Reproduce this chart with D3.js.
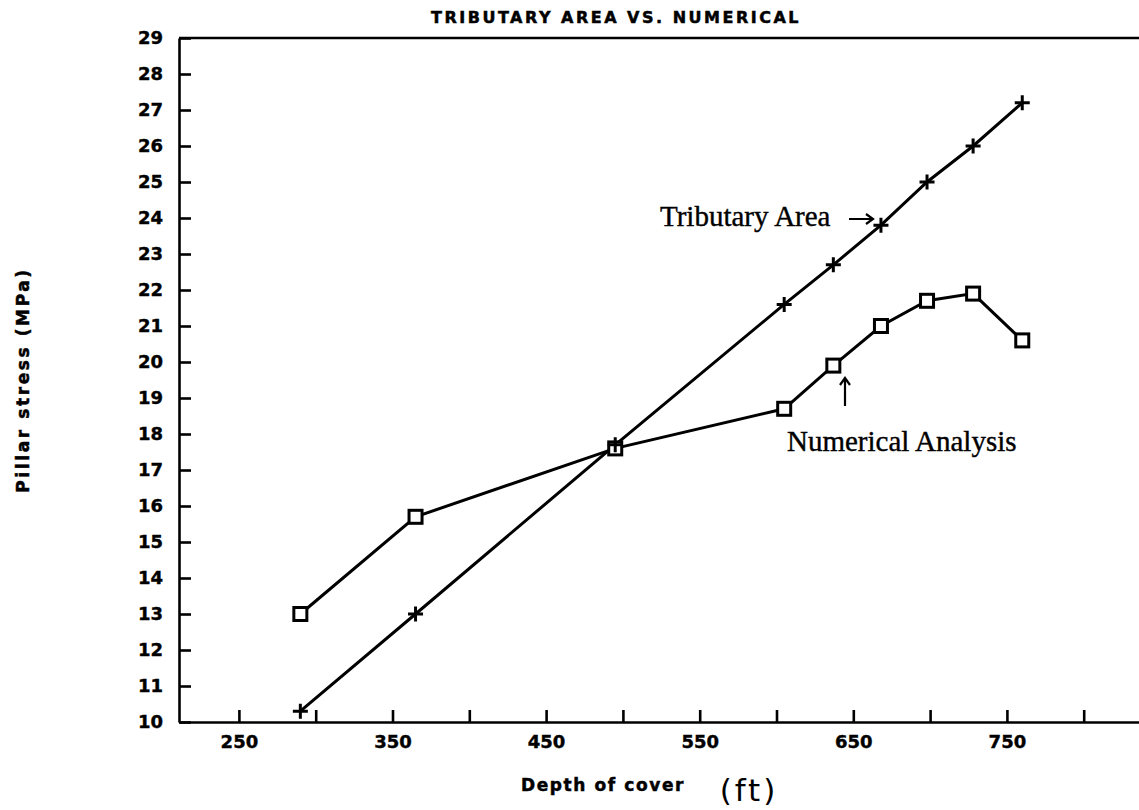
<!DOCTYPE html>
<html>
<head>
<meta charset="utf-8">
<script src="https://cdn.jsdelivr.net/npm/d3@7"></script>
<style>
  html, body { margin: 0; padding: 0; background: #fff; }
  svg { display: block; }
  .plotter { font-family: "DejaVu Sans", sans-serif; font-weight: bold; fill: #000; stroke: #000; stroke-width: 0.5px; }
  .axis path, .axis line { stroke: #000; stroke-width: 2.6; }
  .axis text { font-family: "DejaVu Sans", sans-serif; font-weight: bold; font-size: 18px; fill: #000; stroke: #000; stroke-width: 0.4px; }
  .note { font-family: "Liberation Serif", "Times New Roman", serif; font-size: 29px; fill: #000; stroke: #000; stroke-width: 0.4px; }
</style>
</head>
<body>
<svg id="chart"></svg>
<script>
const depth = [290, 365, 495, 605, 637, 668, 698, 728, 760];
const tributary = [10.3, 13.0, 17.7, 21.6, 22.7, 23.8, 25.0, 26.0, 27.2];
const numerical = [13.0, 15.7, 17.6, 18.7, 19.9, 21.0, 21.7, 21.9, 20.6];
const xTicks = [250, 300, 350, 400, 450, 500, 550, 600, 650, 700, 750, 800];
const xTickLabels = [250, 350, 450, 550, 650, 750];
const yTicks = [10, 11, 12, 13, 14, 15, 16, 17, 18, 19, 20, 21, 22, 23, 24, 25, 26, 27, 28, 29];

const width = 1139;
const height = 810;

const svg = d3.select("#chart").attr("width", width).attr("height", height);

const x = d3.scaleLinear().domain([211, 836]).range([179, 1139]);
const y = d3.scaleLinear().domain([10, 29]).range([722, 38]);

// title
svg.append("text")
  .attr("class", "plotter")
  .attr("x", 616)
  .attr("y", 23)
  .attr("text-anchor", "middle")
  .attr("font-size", "16px")
  .attr("letter-spacing", "2.5px")
  .text("TRIBUTARY AREA VS. NUMERICAL");

// frame top
svg.append("line")
  .attr("x1", x.range()[0]).attr("x2", x.range()[1])
  .attr("y1", y(29)).attr("y2", y(29))
  .attr("stroke", "#000").attr("stroke-width", 2.6);

svg.append("g")
  .attr("class", "axis")
  .attr("transform", `translate(${x.range()[0]},0)`)
  .call(d3.axisLeft(y).tickValues(yTicks).tickSize(-12).tickSizeOuter(0).tickPadding(16));

svg.append("g")
  .attr("class", "axis")
  .attr("transform", `translate(0,${y.range()[0]})`)
  .call(d3.axisBottom(x).tickValues(xTicks).tickSize(-12).tickSizeOuter(0).tickPadding(13)
    .tickFormat((d) => (xTickLabels.includes(d) ? d : "")));

// axis titles
svg.append("text")
  .attr("class", "plotter")
  .attr("transform", `translate(29,${(y.range()[0] + y.range()[1]) / 2}) rotate(-90)`)
  .attr("text-anchor", "middle")
  .attr("font-size", "17px")
  .attr("letter-spacing", "2.6px")
  .text("Pillar stress (MPa)");

svg.append("text")
  .attr("class", "plotter")
  .attr("x", 521)
  .attr("y", 791)
  .attr("font-size", "17px")
  .attr("letter-spacing", "1.6px")
  .text("Depth of cover");

svg.append("text")
  .attr("x", 749)
  .attr("y", 801)
  .attr("text-anchor", "middle")
  .attr("font-family", "DejaVu Sans, sans-serif")
  .attr("font-size", "31px")
  .attr("letter-spacing", "3px")
  .attr("fill", "#000")
  .text("(ft)");

const line = d3.line().x((d) => x(d[0])).y((d) => y(d[1]));
const tribPts = depth.map((d, i) => [d, tributary[i]]);
const numPts = depth.map((d, i) => [d, numerical[i]]);

svg.append("path").datum(numPts)
  .attr("d", line).attr("fill", "none").attr("stroke", "#000").attr("stroke-width", 3);
svg.append("path").datum(tribPts)
  .attr("d", line).attr("fill", "none").attr("stroke", "#000").attr("stroke-width", 3);

svg.append("g").selectAll("rect")
  .data(numPts)
  .join("rect")
  .attr("x", (d) => x(d[0]) - 6.5)
  .attr("y", (d) => y(d[1]) - 6.5)
  .attr("width", 13)
  .attr("height", 13)
  .attr("fill", "#fff")
  .attr("stroke", "#000")
  .attr("stroke-width", 3);

svg.append("g").selectAll("path")
  .data(tribPts)
  .join("path")
  .attr("transform", (d) => `translate(${x(d[0])},${y(d[1])})`)
  .attr("d", "M-7.5,0H7.5M0,-7.5V7.5")
  .attr("stroke", "#000")
  .attr("stroke-width", 3);

// annotations
svg.append("text")
  .attr("class", "note")
  .attr("x", 660)
  .attr("y", 226)
  .text("Tributary Area");

svg.append("path")
  .attr("d", "M849,219H873M866,214L873,219L866,224")
  .attr("fill", "none")
  .attr("stroke", "#000")
  .attr("stroke-width", 2.2);

svg.append("text")
  .attr("class", "note")
  .attr("x", 787)
  .attr("y", 451)
  .text("Numerical Analysis");

svg.append("path")
  .attr("d", "M845,406V378M840,385L845,378L850,385")
  .attr("fill", "none")
  .attr("stroke", "#000")
  .attr("stroke-width", 2.2);
</script>
</body>
</html>
